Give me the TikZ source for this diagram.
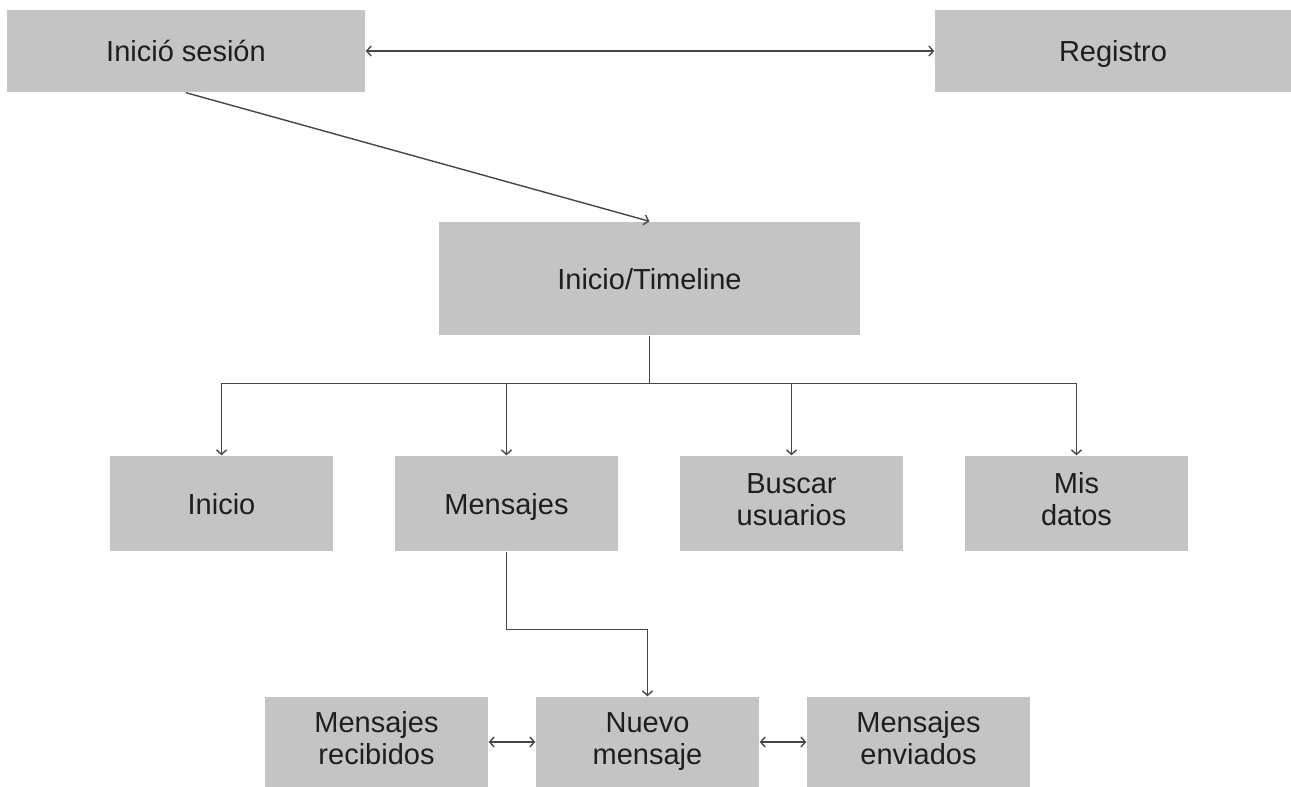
\documentclass[tikz,border=0pt]{standalone}
\usepackage{fontspec}
\setmainfont{Liberation Sans}
\usepackage{tikz}
\usetikzlibrary{arrows.meta, positioning}
\definecolor{boxgray}{RGB}{196,196,196}
\definecolor{linegray}{RGB}{70,70,70}
\definecolor{textgray}{RGB}{30,30,30}

\begin{document}
\begin{tikzpicture}[
        x=1pt, y=-1pt,
        line width=1.4pt,
        >={Straight Barb[length=4.5pt,width=10pt]},
        every node/.style={font=\fontsize{29}{32}\selectfont, text=textgray},
        box/.style={fill=boxgray, draw=none, align=center, inner sep=0pt},
        oneline/.style={box, text height=26pt, text depth=5pt},
        link/.style={draw=linegray}
]
\useasboundingbox (0,0) rectangle (1291,787);

%--- top row ------------------------------------------------
\node[oneline, minimum width=358pt, minimum height=82pt] (sesion)   at (186,51)   {Inició sesión};
\node[oneline, minimum width=356pt, minimum height=82pt] (registro) at (1113,51)  {Registro};

%--- main screen --------------------------------------------
\node[oneline, minimum width=421pt, minimum height=113pt] (timeline) at (649.5,278.5) {Inicio/Timeline};

%--- menu sections ------------------------------------------
\node[oneline, minimum width=223pt, minimum height=95pt] (inicio)   at (221.5,503.5)  {Inicio};
\node[oneline, minimum width=223pt, minimum height=95pt] (mensajes) at (506.5,503.5)  {Mensajes};
\node[box, minimum width=223pt, minimum height=95pt] (buscar)   at (791.5,503.5)  {Buscar\strut\\usuarios\strut};
\node[box, minimum width=223pt, minimum height=95pt] (datos)    at (1076.5,503.5) {Mis\strut\\datos\strut};

%--- message screens ----------------------------------------
\node[box, minimum width=223pt, minimum height=90pt] (recibidos) at (376.5,742) {Mensajes\strut\\recibidos\strut};
\node[box, minimum width=223pt, minimum height=90pt] (nuevo)     at (647.5,742) {Nuevo\strut\\mensaje\strut};
\node[box, minimum width=223pt, minimum height=90pt] (enviados)  at (918.5,742) {Mensajes\strut\\enviados\strut};

%--- connectors ---------------------------------------------
\draw[link, <->] (sesion) -- (registro);
\draw[link, ->] (sesion.south) -- (timeline.north);

\foreach \sec in {inicio, mensajes, buscar, datos}
    \draw[link, ->] (timeline.south) -- ++(0,48) -| (\sec.north);

\draw[link, ->] (mensajes.south) -- ++(0,78) -| (nuevo.north);

\draw[link, <->] (recibidos) -- (nuevo);
\draw[link, <->] (nuevo) -- (enviados);

\end{tikzpicture}
\end{document}
